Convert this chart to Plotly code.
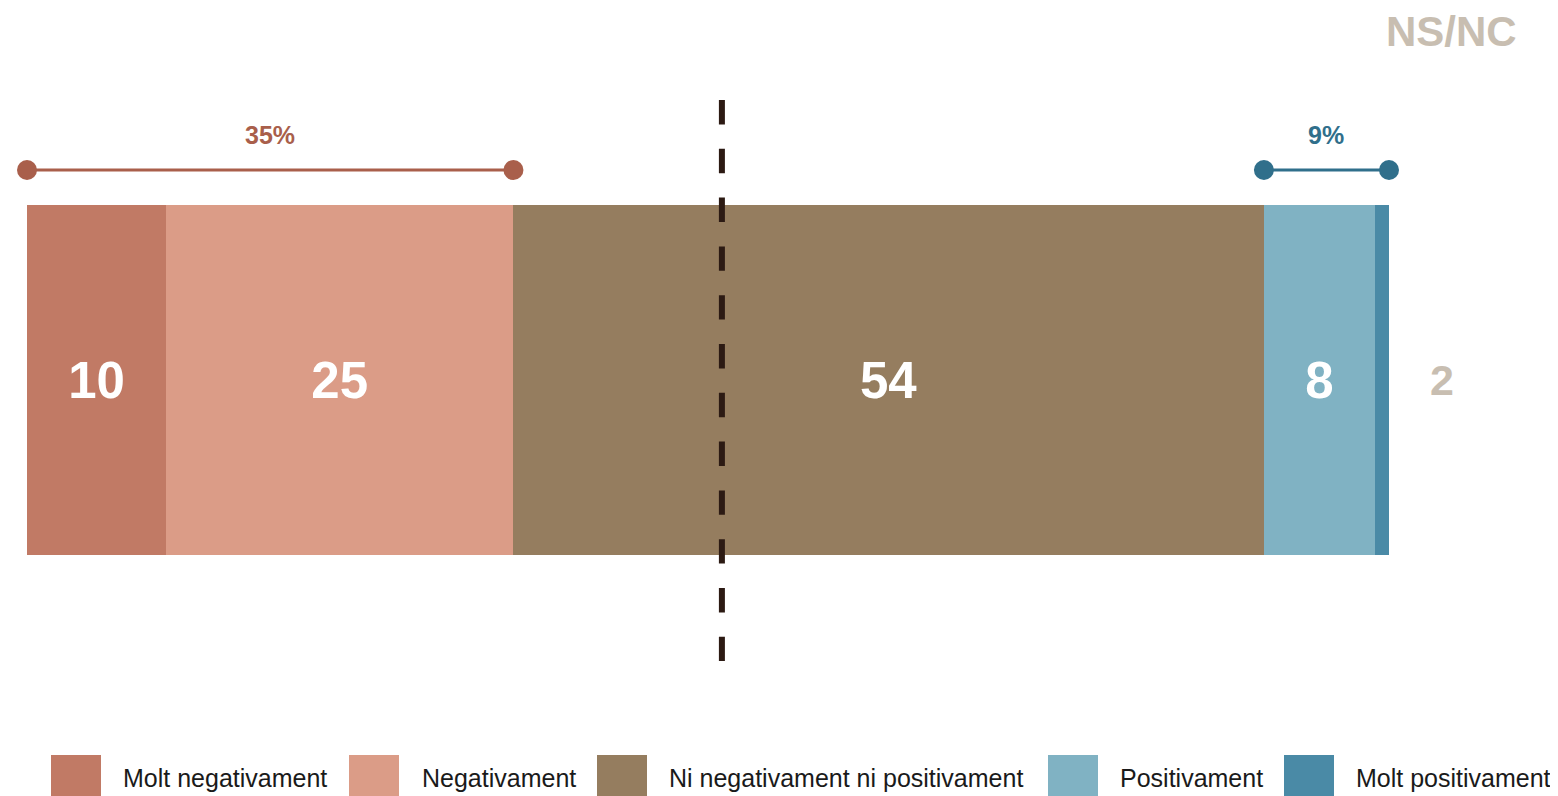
import plotly.graph_objects as go

# ---- data ----
categories = ["Molt negativament", "Negativament", "Ni negativament ni positivament",
              "Positivament", "Molt positivament"]
values = [10, 25, 54, 8, 1]
show_label = [True, True, True, True, False]
colors = ["#c17a65", "#db9c87", "#957d5f", "#80b2c3", "#4a8aa6"]
nsnc_value = 2
negative_total = 35
positive_total = 9
midpoint = 50

OFF = 8  # page body margin
W, H = 1558 - OFF, 796 - OFF
FONT = "Liberation Sans, Arial, sans-serif"
PX_PER_UNIT = 13.898
Y_PX_PER_UNIT = 350

def px_x(p):
    return (p - OFF) / W

def px_y(p):
    return 1 - (p - OFF) / H

fig = go.Figure()

for cat, val, col, show in zip(categories, values, colors, show_label):
    fig.add_trace(go.Bar(
        y=[0], x=[val], orientation="h", name=cat,
        marker=dict(color=col, line=dict(width=0)),
        width=1,
        text=[str(val) if show else ""],
        textposition="inside", insidetextanchor="middle",
        textangle=0, constraintext="none",
        textfont=dict(color="white", size=51, family=FONT, weight="bold"),
        hoverinfo="skip",
    ))

neg_end = values[0] + values[1]
total = sum(values)
pos_start = total - values[3] - values[4]

# brackets
fig.add_trace(go.Scatter(
    x=[0, neg_end], y=[0.6, 0.6], mode="lines+markers",
    line=dict(color="#a95f4b", width=3),
    marker=dict(color="#a95f4b", size=20),
    hoverinfo="skip", showlegend=False,
))
fig.add_trace(go.Scatter(
    x=[pos_start, total], y=[0.6, 0.6], mode="lines+markers",
    line=dict(color="#306f8b", width=3),
    marker=dict(color="#306f8b", size=20),
    hoverinfo="skip", showlegend=False,
))

annotations = [
    dict(x=neg_end / 2, y=0.7, text=f"{negative_total}%", showarrow=False,
         font=dict(color="#a95f4b", size=25, family=FONT, weight="bold")),
    dict(x=(pos_start + total) / 2, y=0.7, text=f"{positive_total}%", showarrow=False,
         font=dict(color="#306f8b", size=25, family=FONT, weight="bold")),
    dict(x=total + 3.8, y=0, text=str(nsnc_value), showarrow=False,
         font=dict(color="#c8beb1", size=43, family=FONT, weight="bold")),
    dict(x=total + 4.5, y=0.995, text="NS/NC", showarrow=False,
         font=dict(color="#c8beb1", size=42, family=FONT, weight="bold")),
]

shapes = [
    dict(type="line", x0=midpoint, x1=midpoint, y0=0.8, y1=-0.803,
         line=dict(color="#2c1a13", width=6, dash="24.4px,24.4px"), layer="above"),
]

# legend (manual)
box_x = [51, 349, 597, 1048, 1284]
text_x = [121, 420, 667, 1118, 1354]
for bx, tx, cat, col in zip(box_x, text_x, categories, colors):
    shapes.append(dict(type="rect", xref="paper", yref="paper",
                       x0=px_x(bx), x1=px_x(bx + 50), y0=px_y(800), y1=px_y(755),
                       fillcolor=col, line=dict(width=0)))
    annotations.append(dict(xref="paper", yref="paper", x=px_x(tx), y=px_y(778),
                            xanchor="left", yanchor="middle", text=cat, showarrow=False,
                            font=dict(color="#1a1a1a", size=25, family=FONT)))

fig.update_layout(
    width=W, height=H,
    margin=dict(l=0, r=0, t=0, b=0),
    barmode="stack",
    showlegend=False,
    plot_bgcolor="white", paper_bgcolor="white",
    xaxis=dict(range=[-(27 - OFF) / PX_PER_UNIT, (W - (27 - OFF)) / PX_PER_UNIT],
               visible=False, fixedrange=True),
    yaxis=dict(range=[-(H - (380 - OFF)) / Y_PX_PER_UNIT, (380 - OFF) / Y_PX_PER_UNIT],
               visible=False, fixedrange=True),
    shapes=shapes,
    annotations=annotations,
)

fig.write_html("out.html")
